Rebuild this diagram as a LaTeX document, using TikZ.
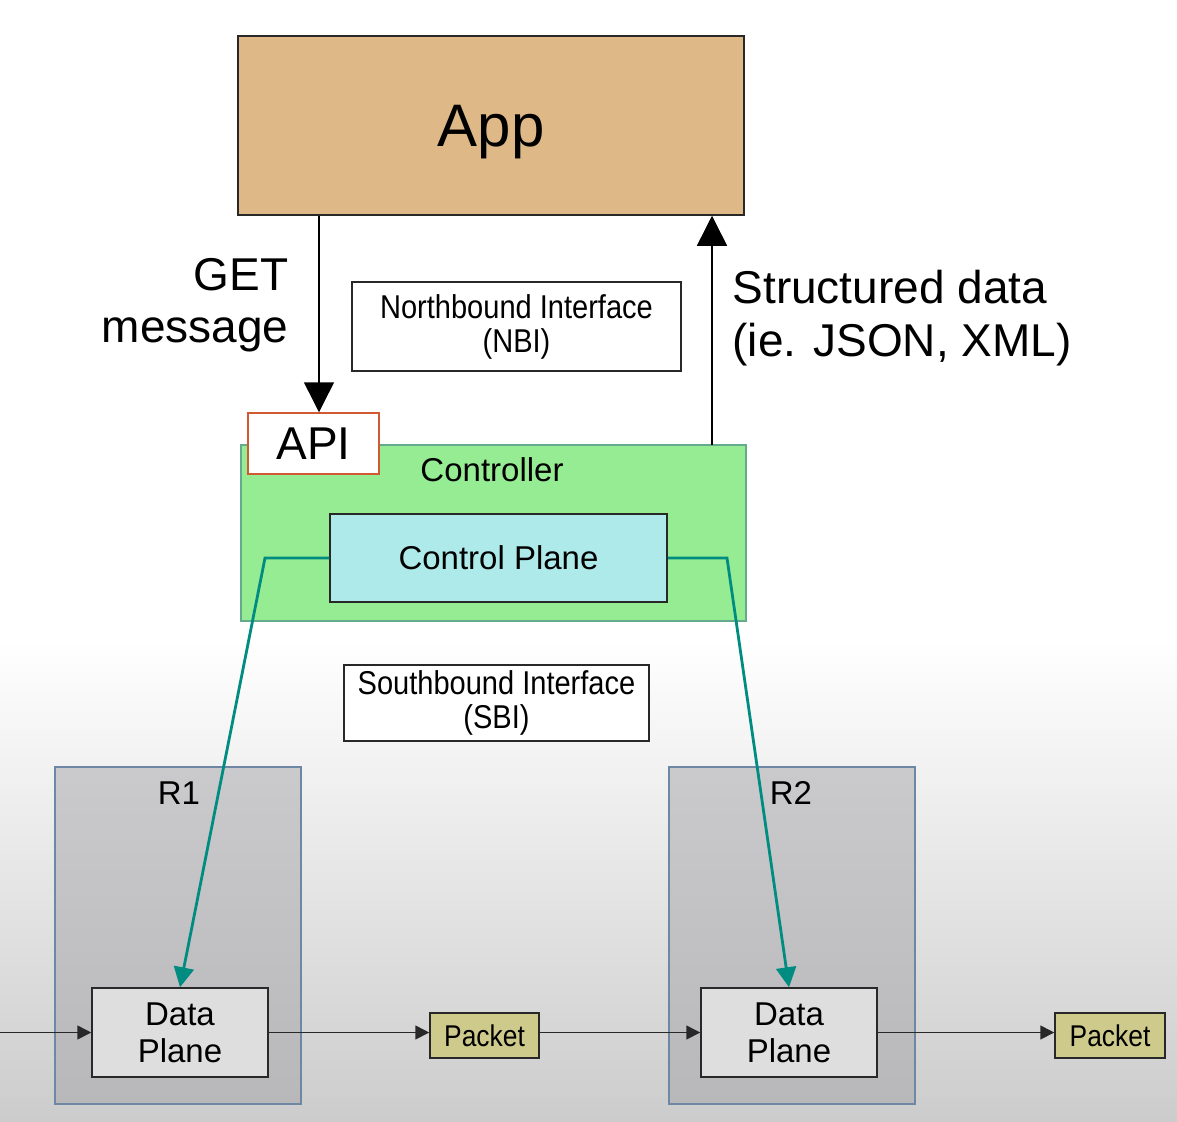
\documentclass[tikz,border=0pt]{standalone}
\usepackage{fontspec}
\setmainfont{Liberation Sans}
\newfontfamily\narrowsans[FakeStretch=0.88]{Liberation Sans}
\usetikzlibrary{arrows.meta}

\definecolor{apptan}{RGB}{222,184,135}
\definecolor{ctrlgreen}{RGB}{150,236,146}
\definecolor{ctrlborder}{RGB}{100,170,140}
\definecolor{cpcyan}{RGB}{174,234,234}
\definecolor{apired}{RGB}{210,90,50}
\definecolor{sbteal}{RGB}{0,140,128}
\definecolor{routertop}{RGB}{202,202,204}
\definecolor{routerbottom}{RGB}{184,184,186}
\definecolor{routerborder}{RGB}{110,135,165}
\definecolor{dpfill}{RGB}{222,222,222}
\definecolor{pktfill}{RGB}{206,202,140}
\definecolor{boxline}{RGB}{40,40,40}

\tikzset{
  box/.style={rectangle, inner sep=0pt, line width=1.5pt, align=center},
  routerbox/.style={box, draw=routerborder, top color=routertop, bottom color=routerbottom,
                    minimum width=246pt, minimum height=337pt},
  bigarrow/.style={line width=1.5pt, -{Triangle[width=30pt,length=30pt]}},
  flowarrow/.style={line width=1.6pt, draw=boxline, -{Triangle[width=14pt,length=14pt]}},
  sblink/.style={line width=2.8pt, draw=sbteal, -{Triangle[width=20pt,length=20pt]}},
}

\begin{document}
\begin{tikzpicture}[x=1pt,y=-1pt]
  % canvas and the soft grey floor under the routers
  \useasboundingbox (0,0) rectangle (1177,1121);
  \fill[white] (0,0) rectangle (1177,640);
  \shade[top color=white, bottom color=black!20] (0,640) rectangle (1177,1121);

  % application layer
  \node[box, draw=boxline, fill=apptan, minimum width=506pt, minimum height=179pt,
        font=\fontsize{60}{66}\selectfont] (app) at (491,125.5)
        {\raisebox{-7pt}[\height][\depth]{App}};

  % northbound interface label
  \node[box, draw=boxline, fill=white, minimum width=329pt, minimum height=89pt,
        font=\narrowsans\fontsize{33}{34}\selectfont] (nbi) at (516.5,326.5)
        {Northbound Interface\\(NBI)};

  % controller with its control plane
  \node[box, draw=ctrlborder, fill=ctrlgreen, minimum width=505pt, minimum height=176pt]
        (ctrl) at (493.5,533) {};
  \node[font=\fontsize{33}{36}\selectfont, anchor=base] (ctrllabel) at (492,481) {Controller};
  \node[box, draw=boxline, fill=cpcyan, minimum width=337pt, minimum height=88pt,
        font=\fontsize{33}{36}\selectfont] (cp) at (498.5,558) {Control Plane};

  % API sits on the controller's top edge
  \node[box, draw=apired, fill=white, minimum width=131pt, minimum height=61pt,
        font=\fontsize{46}{50}\selectfont] (api) at (313.5,443.5) {API};

  % southbound interface label
  \node[box, draw=boxline, fill=white, minimum width=305pt, minimum height=76pt,
        font=\narrowsans\fontsize{33}{34}\selectfont] (sbi) at (496.5,703)
        {Southbound Interface\\(SBI)};

  % routers
  \node[routerbox] (r1) at (178,935.5) {};
  \node[routerbox] (r2) at (792,935.5) {};
  \node[font=\fontsize{33}{36}\selectfont, anchor=base] (r1label) at (179,804) {R1};
  \node[font=\fontsize{33}{36}\selectfont, anchor=base] (r2label) at (791,804) {R2};

  \node[box, draw=boxline, fill=dpfill, minimum width=176pt, minimum height=89pt,
        font=\fontsize{33}{37}\selectfont] (dp1) at (180,1032.5) {Data\\Plane};
  \node[box, draw=boxline, fill=dpfill, minimum width=176pt, minimum height=89pt,
        font=\fontsize{33}{37}\selectfont] (dp2) at (789,1032.5) {Data\\Plane};

  % packets on the wire
  \node[box, draw=boxline, fill=pktfill, minimum width=109pt, minimum height=45pt,
        font=\narrowsans\fontsize{30}{32}\selectfont] (pkt1) at (484.5,1035.5) {Packet};
  \node[box, draw=boxline, fill=pktfill, minimum width=110pt, minimum height=45pt,
        font=\narrowsans\fontsize{30}{32}\selectfont] (pkt2) at (1110,1035.5) {Packet};

  % request / response text
  \node[font=\fontsize{46}{52}\selectfont, align=right, anchor=east] (getmsg) at (292,305)
        {GET\\message};
  \node[font=\fontsize{46}{53}\selectfont, align=left, anchor=west] (structured) at (729,318)
        {Structured data\\(ie. JSON, XML)};

  % northbound calls
  \draw[bigarrow] (app.south -| api.north) ++(5.5,0) coordinate (getstart)
        -- (getstart |- api.north);
  \coordinate (retstart) at (712,445);
  \draw[bigarrow] (retstart) -- (retstart |- app.south);

  % southbound links from the control plane down to each data plane
  \coordinate (cpl) at (265,558);
  \coordinate (cpr) at (727,558);
  \draw[sblink] (cp.west) -- (cpl) -- (dp1.north);
  \draw[sblink] (cp.east) -- (cpr) -- (dp2.north);

  % packet path
  \coordinate (wirein) at (0,1032.5);
  \draw[flowarrow] (wirein) -- (dp1.west);
  \draw[flowarrow] (dp1.east) -- (dp1.east -| pkt1.west);
  \draw[flowarrow] (pkt1.east |- dp2.west) -- (dp2.west);
  \draw[flowarrow] (dp2.east) -- (dp2.east -| pkt2.west);
\end{tikzpicture}
\end{document}
